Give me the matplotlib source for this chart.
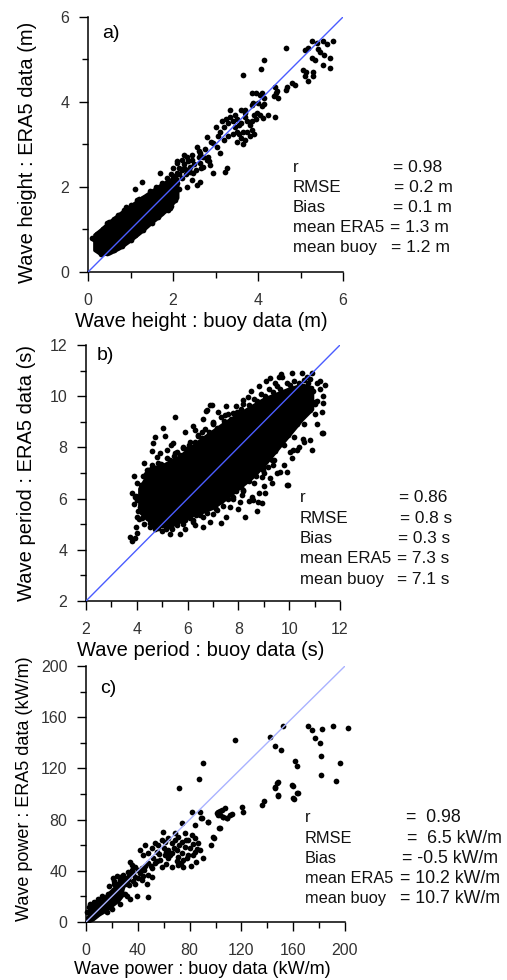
import numpy as np
import matplotlib
matplotlib.use("Agg")
import matplotlib.pyplot as plt
from matplotlib.ticker import MultipleLocator

plt.rcParams["font.family"] = ["Liberation Sans", "DejaVu Sans"]

W, H = 507, 980

# ---------------- panel a : wave height (m) ----------------
# dense core of the cloud: x, lower edge, upper edge
a_core_x = [0.15, 0.3, 0.5, 0.75, 1.0, 1.25, 1.5, 1.75, 1.95, 2.1]
a_core_lo = [0.52, 0.42, 0.44, 0.57, 0.75, 0.95, 1.17, 1.37, 1.57, 1.75]
a_core_hi = [0.88, 1.0, 1.18, 1.38, 1.56, 1.74, 1.91, 2.08, 2.18, 2.2]
a_x = [0.1, 0.15, 0.16, 0.2, 0.2, 0.35, 0.45, 0.5, 0.6, 0.7, 0.85, 0.9, 1.0,
       1.15, 1.2, 1.3, 1.45, 1.6, 1.75, 1.85,
       0.3, 0.45, 0.6, 0.7, 0.8, 1.0, 1.1, 1.3, 1.5, 1.65, 1.8, 1.95, 2.05,
       1.1, 1.26, 1.69, 1.88, 1.93,
       2.09, 2.2, 2.32, 2.44, 2.56, 2.6, 2.64, 2.32, 2.4, 2.48, 2.09, 2.2,
       2.64, 2.71, 2.79, 2.44, 2.56, 2.32, 2.64, 2.0, 2.15, 2.25,
       2.0, 2.05, 2.1, 2.15, 2.2, 2.25, 2.3, 2.35, 2.4, 2.45, 2.5, 2.55, 2.6,
       2.65, 2.7, 2.75, 2.85, 2.9, 2.0, 2.1, 2.25, 1.95, 2.05, 2.15,
       2.79, 3.03, 3.1, 2.82, 2.87, 2.95, 3.27, 3.22,
       3.2, 3.3, 3.4, 3.5, 3.55, 3.6, 3.7, 3.75, 3.8, 3.65, 3.5, 3.4, 3.3,
       3.2, 3.1, 3.0, 3.05, 3.15, 3.25, 3.45, 3.55, 3.6, 3.7, 3.75, 3.85,
       3.9, 3.85, 3.95, 3.35, 3.45, 3.6, 3.7, 3.8, 3.9, 3.65, 3.5, 3.34, 3.69,
       2.95, 3.98,
       3.85, 3.95, 4.05, 4.1, 4.15, 3.89, 3.85, 4.0, 4.1, 4.13, 4.05, 4.12,
       4.24, 4.4, 4.4, 4.45, 4.38, 4.47, 4.42,
       4.79, 4.87, 4.68, 4.66, 3.64, 4.08, 4.14, 4.67,
       5.07, 5.13, 5.3, 5.11, 5.18, 5.3, 5.54, 5.69, 5.55, 5.69, 5.26, 5.34,
       5.4, 5.45, 5.11, 5.18, 5.26, 5.38, 5.54, 5.77, 5.62]
a_y = [0.8, 0.78, 0.8, 0.9, 0.82, 1.02, 1.15, 1.18, 1.25, 1.35, 1.45, 1.52, 1.58,
       1.7, 1.72, 1.75, 1.9, 2.0, 2.1, 2.2,
       0.42, 0.45, 0.52, 0.58, 0.62, 0.75, 0.88, 0.98, 1.15, 1.3, 1.45, 1.55, 1.7,
       1.95, 2.12, 2.32, 1.46, 1.5,
       2.56, 2.64, 2.71, 2.64, 2.95, 2.71, 2.79, 2.4, 2.48, 2.32, 2.32, 2.4,
       2.56, 2.48, 2.64, 2.16, 2.05, 2.01, 2.12, 2.2, 2.3, 2.45,
       2.0, 2.25, 2.1, 2.45, 2.2, 2.55, 2.3, 2.6, 2.35, 2.75, 2.55, 2.4, 2.85,
       2.45, 2.7, 2.9, 2.6, 3.05, 2.45, 2.6, 2.75, 2.3, 1.9, 1.95,
       3.18, 2.95, 2.79, 2.71, 2.52, 2.33, 2.45, 2.36,
       3.4, 3.5, 3.55, 3.6, 3.45, 3.5, 3.65, 3.55, 3.45, 3.3, 3.3, 3.25, 3.2,
       3.1, 3.3, 3.4, 3.2, 3.55, 3.6, 3.4, 3.25, 3.15, 3.1, 3.3, 3.55,
       3.7, 3.35, 3.6, 3.65, 3.7, 3.8, 3.75, 3.2, 3.25, 3.0, 3.05, 3.81, 3.81,
       3.03, 3.74,
       4.2, 4.2, 4.16, 4.2, 4.1, 3.97, 3.93, 3.97, 3.9, 3.95, 3.69, 3.62,
       3.69, 3.65, 4.35, 4.25, 4.15, 4.1, 4.2,
       4.44, 4.4, 4.36, 4.28, 4.64, 4.77, 4.99, 5.28,
       4.75, 4.7, 4.71, 4.6, 4.49, 4.6, 4.87, 4.79, 5.1, 5.03, 5.03, 4.99,
       5.25, 5.18, 5.22, 5.26, 5.44, 5.38, 5.44, 5.44, 5.36]

# ---------------- panel b : wave period (s) ----------------
b_core_x = [4.1, 4.4, 4.8, 5.2, 5.6, 6.0, 6.5, 7.0, 7.5, 8.0, 8.5, 9.0, 9.5,
            10.0, 10.5, 10.9]
b_core_lo = [5.5, 5.2, 4.95, 4.9, 5.05, 5.3, 5.45, 5.65, 6.0, 6.4, 6.8, 7.3,
             7.9, 8.5, 9.1, 9.5]
b_core_hi = [6.4, 6.9, 7.2, 7.4, 7.6, 7.9, 8.3, 8.65, 9.0, 9.3, 9.6, 9.9,
             10.1, 10.3, 10.45, 10.35]
b_x = [3.9, 3.96, 4.72, 4.65, 5.04, 5.11, 5.44, 5.5, 6.71, 6.9, 7.01, 4.59,
       4.78, 4.45, 4.65, 4.85, 5.18, 5.57, 5.83, 6.29, 6.42, 6.56, 4.13, 4.0,
       3.73, 3.8, 3.93, 4.0, 3.93, 5.7, 8.72, 9.9, 11.28, 10.89,
       9.66, 9.7, 10.49, 9.24, 9.44, 10.82, 11.08, 11.41, 11.34, 11.02, 11.34,
       11.32, 10.82, 10.56, 10.3, 10.16, 10.03, 9.96, 9.64, 9.9, 9.31, 9.37,
       9.18, 8.92, 8.98, 8.52, 8.59, 8.92, 9.05, 6.75, 7.01, 6.95, 8.19, 8.39,
       7.47, 7.8, 8.13, 8.19, 9.24, 9.31,
       7.15, 6.75, 7.67, 6.49, 6.22, 7.8, 8.06, 8.26, 8.78,
       4.1, 4.3, 4.5, 4.7, 5.0, 5.4, 5.8, 6.2, 6.6, 7.0, 7.4, 7.8, 8.2, 8.6,
       9.0, 9.4, 9.8, 10.2, 10.6, 11.0, 11.1, 10.95, 11.2,
       4.0, 4.25, 4.4, 4.6, 4.85, 5.2, 5.5, 5.8, 6.1, 6.4, 6.7, 7.0, 7.3, 7.6,
       7.9, 8.2, 8.6, 8.9, 9.2, 9.5, 9.9, 10.2, 10.6,
       4.15, 4.35, 4.55, 4.75, 4.95, 5.05, 5.3, 5.45, 5.7, 5.95, 6.05, 6.3,
       6.55, 6.85, 7.15, 7.45, 7.7, 7.95, 8.1, 8.4, 8.75, 9.05, 9.35, 9.65,
       10.05, 10.4, 10.75,
       4.3, 4.9, 5.35, 5.9, 6.2, 6.6, 7.2, 7.5, 8.5, 8.8, 9.1, 9.6, 10.1,
       10.7, 3.8, 3.9, 4.05, 4.0, 4.2, 3.95,
       4.5, 4.65, 4.85, 5.15, 5.35, 5.6, 5.9, 6.1, 6.35, 6.75, 7.1, 7.3, 7.6,
       7.9, 8.1, 8.4, 8.7, 8.95, 9.2, 9.45, 9.7, 9.95, 10.3, 10.55, 10.8, 11.0,
       5.3, 5.9, 6.3, 6.9, 7.5, 8.0, 8.4, 9.0, 9.5, 10.1, 10.6, 11.1, 10.4,
       9.8, 8.8, 7.3, 6.6, 11.3, 11.2, 10.9]
b_y = [6.88, 6.1, 8.39, 8.16, 8.75, 8.45, 8.18, 9.18, 9.43, 9.66, 8.96, 7.87,
       7.64, 7.12, 7.25, 7.22, 7.9, 7.83, 7.96, 8.68, 8.48, 8.61, 5.68, 5.29,
       4.51, 4.36, 4.45, 4.64, 6.07, 4.6, 5.52, 6.53, 8.55, 7.9,
       10.87, 10.75, 10.9, 10.7, 10.5, 10.66, 10.5, 10.44, 10.0, 9.79, 9.75,
       8.55, 8.29, 8.32, 7.9, 7.9, 7.83, 6.53, 7.05, 7.05, 7.51, 7.31,
       7.25, 6.86, 7.12, 6.07, 5.95, 5.82, 6.21, 9.46, 9.0, 9.66, 9.85, 9.98,
       9.27, 9.33, 6.14, 6.34, 6.79, 6.6,
       5.55, 5.68, 5.68, 5.36, 5.16, 6.07, 5.88, 5.29, 5.88,
       5.2, 5.0, 4.9, 4.8, 4.75, 4.8, 5.0, 5.1, 5.3, 5.4, 5.7, 6.0, 6.3, 6.6,
       7.0, 7.5, 8.1, 8.4, 8.9, 9.3, 9.8, 10.2, 10.3,
       6.6, 6.9, 7.1, 7.3, 7.4, 7.6, 7.8, 8.0, 8.2, 8.45, 8.7, 8.9, 9.2, 9.3,
       9.6, 9.7, 9.9, 10.1, 10.3, 10.4, 10.5, 10.6, 10.65,
       6.55, 6.95, 7.15, 7.1, 7.35, 7.2, 7.5, 7.65, 7.7, 7.95, 8.1, 8.2,
       8.35, 8.6, 8.75, 9.05, 9.1, 9.4, 9.5, 9.65, 9.8, 10.0, 10.15, 10.3,
       10.45, 10.5, 10.5,
       7.4, 7.8, 8.1, 8.6, 8.85, 9.1, 9.4, 9.6, 10.2, 10.4, 10.6, 10.75, 10.9,
       10.75, 6.2, 5.8, 5.5, 5.95, 5.25, 4.9,
       5.05, 4.95, 4.85, 4.8, 4.9, 4.95, 5.15, 5.25, 5.35, 5.45, 5.6, 5.9, 6.0,
       6.3, 6.45, 6.7, 6.9, 7.25, 7.6, 7.85, 8.3, 8.5, 8.9, 9.3, 9.45, 9.7,
       4.6, 4.8, 4.95, 5.1, 5.3, 5.6, 5.9, 6.5, 7.0, 7.6, 8.2, 8.9, 8.0,
       7.3, 6.2, 5.05, 4.9, 9.4, 10.6, 10.9]

# ---------------- panel c : wave power (kW/m) ----------------
c_core_x = [0.5, 5, 10, 15, 20, 25, 28]
c_core_lo = [0, 2, 6, 9, 13, 17, 21]
c_core_hi = [3, 9, 15, 20, 25, 30, 32]
c_x = [2, 5, 8, 12, 18, 22, 16, 20, 26, 30, 34,
       1, 3, 4, 6, 9, 11, 14, 17, 19,
       31.4, 39.1, 48.1, 25, 27.6, 30.1, 21.1, 23.7, 26.3, 28.8,
       32.7, 35.3, 37.8, 40.4, 43, 45.6, 34, 35.3, 30.1, 32.7, 36.5, 40.4,
       44.2, 48.1, 50.7,
       22, 24, 26, 28, 30, 28, 33, 36, 38, 42, 45, 47, 25, 27, 33, 38, 43,
       50, 52, 55, 48, 56, 60, 62, 65, 68, 70, 72, 74, 77, 80, 83, 86, 62,
       70, 78, 90, 85, 81, 73,
       41.7, 45.6, 44.3, 48.1, 50.7, 53.3, 55.9, 54.6, 58.5, 61, 63.6, 66.2,
       68.7, 71.3, 73.9, 76.4, 79, 81.6, 84.2, 86.7, 88.0, 84.2, 79, 75.2,
       71.3, 66.2, 63.6, 61, 57.2, 53.3, 50.7, 58.5, 66.2, 71.3, 75.2, 82.9,
       59.7, 81.6, 88, 89.3, 76.4, 73.9, 68.7, 63.6,
       115.1, 90.6, 87.5, 71.8, 94.4, 102.2, 103.5, 106.1, 108.6, 111.2,
       104.8, 100.9, 120.2, 121, 102.9, 98.8, 96.2, 135.7, 137.8, 142.1,
       145.9, 150.6, 152.4, 145.9, 148.0, 148.6, 160.1, 162.7, 161.4, 162.7,
       158.8, 171.7, 174.3, 176.8, 182, 180.7, 181.3, 181.3, 191, 202.6,
       196.1, 193.1, 147.7, 146.2, 148, 159.6, 163.5, 160.6, 112.5, 106,
       107.3, 103.5, 102.2, 108.6, 88.8, 94.4, 103.5, 98.3, 84.2]
c_y = [12, 12, 14, 20, 28, 30, 8, 10, 14, 22, 18,
       8, 14, 10, 16, 18, 9, 12, 22, 16,
       20.3, 20.3, 19.8, 25, 27.6, 29.7, 34.2, 36, 35, 36.8,
       39.3, 40.7, 42.8, 40.7, 42, 43.8, 47.2, 44.6, 34.2, 32.9, 32.3, 34.2,
       36, 36.8, 35,
       32, 30, 33, 34, 31, 28, 36, 38, 30, 38, 41, 30, 22, 26, 29, 35, 33,
       44, 50, 48, 46, 53, 58, 55, 52, 58, 56, 60, 54, 64, 58, 61, 57, 45,
       48, 50, 50, 47, 44, 46,
       56.3, 60.2, 52.4, 53.7, 57.6, 61.5, 60.2, 55, 64.1, 62.8, 65.5, 61.5,
       64.1, 66.7, 62.8, 58.9, 64.1, 68, 65.5, 61.5, 56.3, 55, 52.4, 48.5,
       51.1, 53.7, 49.8, 52.4, 48.5, 45.9, 42, 43.3, 43.3, 44.6, 43.3, 52.4,
       70.6, 86.3, 86.3, 81.1, 69.4, 77.2, 69.4, 56.3,
       142.4, 124.6, 111.6, 104.6, 78.5, 86.3, 83.7, 82.4, 81.1, 83.7,
       87.6, 85, 90.2, 86.3, 73.3, 65.5, 60.2, 91.5, 94.6, 144.9,
       137.7, 134.5, 152.8, 105.8, 109, 99.3, 96.7, 101.1, 125.4, 121.5,
       107.2, 153.3, 150.2, 143.7, 150.7, 140.2, 129.3, 115, 152.8, 151.5,
       124.1, 110.5, 108.5, 104.6, 98.6, 106.6, 101.1, 96.2, 84.5, 82.4,
       88.9, 87.1, 83.7, 81.1, 81.1, 78.5, 73.8, 66.7, 75.9]

panels = [
    dict(tag="a)", lim=(0, 6), major=2, minor=1,
         xlabel="Wave height : buoy data (m)",
         ylabel="Wave height : ERA5 data (m)", lsize=14.5,
         core=(a_core_x, a_core_lo, a_core_hi), pts=(a_x, a_y),
         line="#4a5cff",
         rect=(88, 17, 255, 255), lab_x=(-0.239, 0.47), lab_y=(0.443, -0.196),
         tag_px=(102, 38),
         stats=[("r", "= 0.98"), ("RMSE", "= 0.2 m"), ("Bias", "= 0.1 m"),
                ("mean ERA5", "= 1.3 m"), ("mean buoy", "= 1.2 m")],
         fs=(12.2, 12.6),
         name_x=293, eq_x=[392.7, 394, 392.7, 390.5, 391],
         base_y=[171.7, 191.7, 211.7, 232.3, 252.3]),
    dict(tag="b)", lim=(2, 12), major=2, minor=1,
         xlabel="Wave period : buoy data (s)",
         ylabel="Wave period : ERA5 data (s)", lsize=14.5,
         core=(b_core_x, b_core_lo, b_core_hi), pts=(b_x, b_y),
         line="#4a5cff",
         rect=(86, 345, 254, 256), lab_x=(-0.236, 0.5), lab_y=(0.453, -0.195),
         tag_px=(97, 360),
         stats=[("r", "= 0.86"), ("RMSE", "= 0.8 s"), ("Bias", "= 0.3 s"),
                ("mean ERA5", "= 7.3 s"), ("mean buoy", "= 7.1 s")],
         fs=(12.2, 12.4),
         name_x=300, eq_x=[399, 400, 398.3, 397, 397],
         base_y=[502.3, 523, 543.3, 563.3, 583.7]),
    dict(tag="c)", lim=(0, 200), major=40, minor=20,
         xlabel="Wave power : buoy data (kW/m)",
         ylabel="Wave power : ERA5 data (kW/m)", lsize=13,
         core=(c_core_x, c_core_lo, c_core_hi), pts=(c_x, c_y),
         line="#a9b2ff",
         rect=(86, 666, 259, 256), lab_x=(-0.236, 0.52), lab_y=(0.448, -0.184),
         tag_px=(100, 693),
         stats=[("r", "=  0.98"), ("RMSE", "=  6.5 kW/m"),
                ("Bias", "= -0.5 kW/m"), ("mean ERA5", "= 10.2 kW/m"),
                ("mean buoy", "= 10.7 kW/m")],
         fs=(11.8, 12.8),
         name_x=305, eq_x=[406, 407.3, 401.7, 399.5, 399.5],
         base_y=[821.7, 842.7, 862.7, 882.7, 902.7]),
]

fig = plt.figure(figsize=(W / 100, H / 100), dpi=100)

for p in panels:
    left, top, w, h = p["rect"]
    ax = fig.add_axes([left / W, 1 - (top + h) / H, w / W, h / H])
    lo, hi = p["lim"]

    cx, clo, chi = p["core"]
    ax.fill_between(cx, clo, chi, color="black", lw=2.5, zorder=2)
    ax.scatter(p["pts"][0], p["pts"][1], s=17, color="black", lw=0,
               zorder=3, clip_on=False)
    ax.plot([lo, hi], [lo, hi], color=p["line"], lw=1.0, zorder=4)

    ax.set_xlim(lo, hi)
    ax.set_ylim(lo, hi)
    for s in ("top", "right"):
        ax.spines[s].set_visible(False)
    for s in ("left", "bottom"):
        ax.spines[s].set_linewidth(1.1)
    ax.xaxis.set_major_locator(MultipleLocator(p["major"]))
    ax.xaxis.set_minor_locator(MultipleLocator(p["minor"]))
    ax.yaxis.set_major_locator(MultipleLocator(p["major"]))
    ax.yaxis.set_minor_locator(MultipleLocator(p["minor"]))
    ax.tick_params(which="major", direction="out", length=6.5, width=1.0,
                   labelsize=11.5, labelcolor="#333333")
    ax.tick_params(which="minor", direction="out", length=4.5, width=1.0)
    ax.tick_params(axis="x", which="major", pad=8.5)
    ax.tick_params(axis="y", which="major", pad=7)

    ax.set_xlabel(p["xlabel"], fontsize=p["lsize"], va="center")
    ax.set_ylabel(p["ylabel"], fontsize=p["lsize"], va="center")
    ax.xaxis.set_label_coords(*p["lab_y"])
    ax.yaxis.set_label_coords(*p["lab_x"])

    tx, ty = p["tag_px"]
    fig.text(tx / W, 1 - ty / H, p["tag"], fontsize=14, va="baseline")

    fs_name, fs_val = p["fs"]
    for (name, val), ex, by in zip(p["stats"], p["eq_x"], p["base_y"]):
        fig.text(p["name_x"] / W, 1 - by / H, name, fontsize=fs_name,
                 va="baseline", color="#111111")
        fig.text(ex / W, 1 - by / H, val, fontsize=fs_val,
                 va="baseline", color="#111111")

fig.savefig("out.png", dpi=100)
